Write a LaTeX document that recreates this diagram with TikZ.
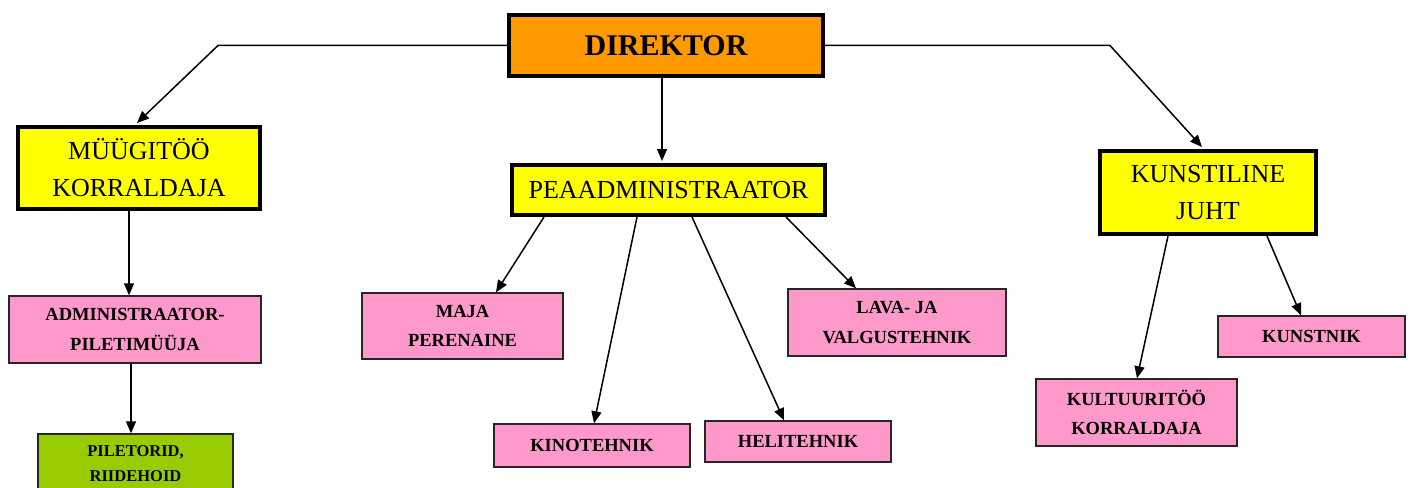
\documentclass[tikz,border=0pt]{standalone}
\usepackage{fontspec}
\setmainfont{Liberation Serif}
\usetikzlibrary{arrows.meta,calc}
\definecolor{dirorange}{HTML}{FF9900}
\definecolor{boxyellow}{HTML}{FFFF00}
\definecolor{boxpink}{HTML}{FF99CC}
\definecolor{boxgreen}{HTML}{99CC00}
\tikzset{
  headbox/.style={draw=black, line width=4pt, inner sep=0pt, align=center, text=black},
  dirbox/.style={headbox, fill=dirorange, font=\bfseries\fontsize{30}{36}\selectfont},
  yelbox/.style={headbox, fill=boxyellow, font=\fontsize{26}{37}\selectfont},
  pinkbox/.style={draw=black!85, line width=1.4pt, fill=boxpink, inner sep=0pt, align=center,
    font=\bfseries\fontsize{18.5}{29.5}\selectfont},
  greenbox/.style={draw=black!85, line width=1.4pt, fill=boxgreen, inner sep=0pt, align=center,
    font=\bfseries\fontsize{16.5}{25}\selectfont},
  conn/.style={draw=black, line width=1.5pt},
  arr/.style={conn, -{Triangle[length=12pt,width=10pt]}}
}
\begin{document}
\begin{tikzpicture}[x=1pt,y=-1pt]
\clip (0,0) rectangle (1410,487);
\fill[white] (0,0) rectangle (1410,487);
% top level
\node[dirbox, minimum width=314pt, minimum height=61pt] (dir) at (666,45.5) {DIREKTOR};
% second level
\node[yelbox, minimum width=242pt, minimum height=82pt] (mug) at (139,168) {MÜÜGITÖÖ\\KORRALDAJA};
\node[yelbox, minimum width=313pt, minimum height=50pt] (pea) at (668.5,190) {PEAADMINISTRAATOR};
\node[yelbox, minimum width=216pt, minimum height=83pt] (kun) at (1208,192.5) {KUNSTILINE\\JUHT};
% third level
\node[pinkbox, minimum width=252pt, minimum height=67pt] (adm) at (135,329.5) {ADMINISTRAATOR-\\PILETIMÜÜJA};
\node[greenbox, minimum width=195pt, minimum height=60pt] (pil) at (135.5,464) {PILETORID,\\RIIDEHOID};
\node[pinkbox, minimum width=201pt, minimum height=66pt] (maja) at (462.5,326) {MAJA\\PERENAINE};
\node[pinkbox, minimum width=196pt, minimum height=43pt] (kino) at (592,445.5) {KINOTEHNIK};
\node[pinkbox, minimum width=186pt, minimum height=41pt] (heli) at (798,441.5) {HELITEHNIK};
\node[pinkbox, minimum width=218pt, minimum height=67pt] (lava) at (897,322.5) {LAVA- JA\\VALGUSTEHNIK};
\node[pinkbox, minimum width=187pt, minimum height=41pt] (kst) at (1311.5,336.5) {KUNSTNIK};
\node[pinkbox, minimum width=201pt, minimum height=67pt] (kul) at (1136.5,412.5) {KULTUURITÖÖ\\KORRALDAJA};
% bend points
\coordinate (bl) at (218,45.5);
\coordinate (br) at (1110,45.5);
% connectors
\draw[arr] (dir.west) -- (bl) -- ([xshift=-2pt,yshift=2pt]mug.north);
\draw[arr] (dir.east) -- (br) -- ([xshift=-6pt,yshift=2pt]kun.north);
\draw[arr] ([xshift=-4pt]dir.south) -- ([xshift=-4pt,yshift=2pt]dir.south |- pea.north);
\draw[arr] ([xshift=-10pt]mug.south) -- ([xshift=-10pt]mug.south |- adm.north);
\draw[arr] ([xshift=-4pt]adm.south) -- ([xshift=-4pt]adm.south |- pil.north);
\draw[arr] ([xshift=-124.5pt]pea.south) -- ([xshift=33.5pt]maja.north);
\draw[arr] ([xshift=-31.5pt]pea.south) -- ([xshift=2pt]kino.north);
\draw[arr] ([xshift=23.5pt]pea.south) -- ([xshift=-14pt]heli.north);
\draw[arr] ([xshift=117.5pt]pea.south) -- ([xshift=-41pt]lava.north);
\draw[arr] ([xshift=-40pt]kun.south) -- ([xshift=0.5pt]kul.north);
\draw[arr] ([xshift=59pt]kun.south) -- ([xshift=-10.5pt]kst.north);
\end{tikzpicture}
\end{document}
